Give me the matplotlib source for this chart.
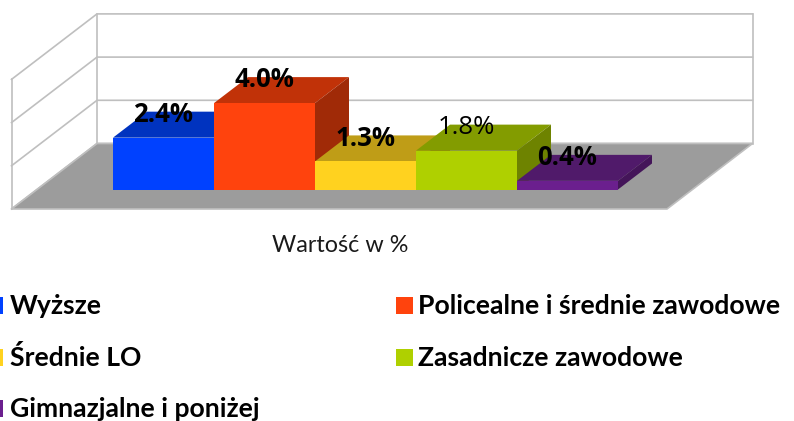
import matplotlib
matplotlib.use('Agg')
import matplotlib.pyplot as plt
from matplotlib.patches import Polygon, Rectangle

# Data
categories = ['Wyższe', 'Policealne i średnie zawodowe', 'Średnie LO',
              'Zasadnicze zawodowe', 'Gimnazjalne i poniżej']
values = [2.4, 4.0, 1.3, 1.8, 0.4]
value_labels = ['2.4%', '4.0%', '1.3%', '1.8%', '0.4%']
label_weights = ['bold', 'bold', 'bold', 'normal', 'bold']
grid_values = [0, 2, 4, 6]
axis_title = 'Wartość w %'

front_colors = ['#0041FF', '#FF430D', '#FFD21F', '#AFD000', '#6B1F8E']
top_colors = ['#0033BF', '#C13208', '#BF9D17', '#839C00', '#501A6A']
side_colors = ['#002A9E', '#A02A07', '#9E8212', '#6E8300', '#441559']

W, H = 794, 421
PX_X = 101.0   # pixels per category
PX_Y = 21.6    # pixels per percent
X0, Y0 = 113.0, 189.5   # pixel position of first bar's base

plt.rcParams['font.family'] = ['Lato', 'DejaVu Sans']

fig = plt.figure(figsize=(W / 100, H / 100), dpi=100)
ax = fig.add_axes([0, 0, 1, 1])
ax.set_xlim(-X0 / PX_X, (W - X0) / PX_X)
ax.set_ylim((Y0 - H) / PX_Y, Y0 / PX_Y)
ax.axis('off')

# oblique projection offsets, in data units
bar_dx, bar_dy = 34 / PX_X, 26 / PX_Y
wall_dx, wall_dy = 85.5 / PX_X, 65.5 / PX_Y
floor_y = -19.5 / PX_Y
back_y = floor_y + wall_dy
left = (11.5 - X0) / PX_X
right = (667.0 - X0) / PX_X
grid_c = '#BFBFBF'

# floor
ax.add_patch(Polygon([(left, floor_y), (right, floor_y),
                      (right + wall_dx, back_y), (left + wall_dx, back_y)],
                     fc='#9C9C9C', ec=grid_c, lw=1.2, zorder=2))

# walls and gridlines
for g in grid_values:
    ax.plot([left, left + wall_dx, right + wall_dx], [floor_y + g, back_y + g, back_y + g],
            color=grid_c, lw=1.2, zorder=1)
top = grid_values[-1]
ax.plot([left, left], [floor_y, floor_y + top], color=grid_c, lw=1.2, zorder=1)
ax.plot([left + wall_dx] * 2, [back_y, back_y + top], color=grid_c, lw=1.2, zorder=1)
ax.plot([right + wall_dx] * 2, [back_y, back_y + top], color=grid_c, lw=1.2, zorder=1)

# bars, 3d faces by hand
for i, v in enumerate(values):
    x1, x2 = i, i + 1
    z = 3 + i * 0.1
    ax.add_patch(Polygon([(x1, v), (x2, v), (x2 + bar_dx, v + bar_dy), (x1 + bar_dx, v + bar_dy)],
                         fc=top_colors[i], ec='none', zorder=z))
    ax.add_patch(Polygon([(x2, 0), (x2 + bar_dx, bar_dy), (x2 + bar_dx, v + bar_dy), (x2, v)],
                         fc=side_colors[i], ec='none', zorder=z))
    ax.bar(i + 0.5, v, width=1, color=front_colors[i], zorder=z + 0.01)

for i, v in enumerate(values):
    ax.text(i + 0.5, v + bar_dy - 0.12, value_labels[i], ha='center', va='center',
            fontsize=18.5, fontweight=label_weights[i], color='black', zorder=10,
            family=['Open Sans', 'DejaVu Sans'])

fig.text(340 / W, 1 - 245 / H, axis_title, ha='center', va='center', fontsize=16.8, color='#1a1a1a')

# legend placed by hand, first column swatches are cut by the edge
swatch_pos = [(-14, 305), (396, 305), (-14, 357), (396, 357), (-14, 408)]
text_x = [10, 418, 10, 418, 10]
for name, color, (lx, ly), tx in zip(categories, front_colors, swatch_pos, text_x):
    fig.add_artist(Rectangle((lx / W, 1 - (ly + 9) / H), 17 / W, 17 / H, fc=color, ec='none',
                             transform=fig.transFigure))
    fig.text(tx / W, 1 - (ly + 1) / H, name, ha='left', va='center', fontsize=19.1,
             fontweight='bold', color='black')

fig.savefig('out.png', dpi=100)
